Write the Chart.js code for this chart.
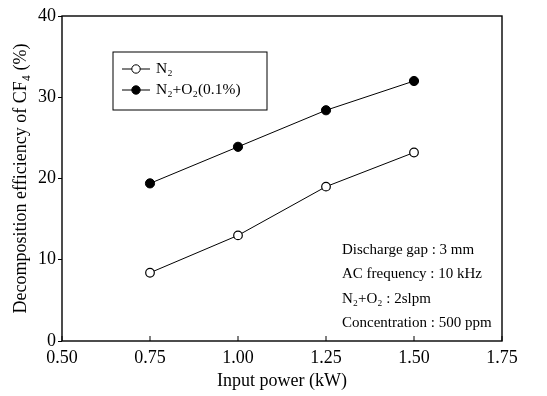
<!DOCTYPE html>
<html>
<head>
<meta charset="utf-8">
<script src="https://cdn.jsdelivr.net/npm/chart.js@4/dist/chart.umd.min.js"></script>
<style>
  html, body { margin: 0; padding: 0; background: #fff; }
  #wrap { width: 547px; height: 396px; }
</style>
</head>
<body>
<div id="wrap"><canvas id="cf4Chart" width="547" height="396"></canvas></div>
<script>
var power = [0.75, 1.00, 1.25, 1.50];
var n2 = [8.4, 13.0, 19.0, 23.2];
var n2o2 = [19.4, 23.9, 28.4, 32.0];
var seriesNames = ['N\u2082', 'N\u2082+O\u2082(0.1%)'];
var notes = ['Discharge gap : 3 mm', 'AC frequency : 10 kHz', 'N\u2082+O\u2082 : 2slpm', 'Concentration : 500 ppm'];
var xTicks = [0.50, 0.75, 1.00, 1.25, 1.50, 1.75];
var yTicks = [0, 10, 20, 30, 40];

var serif = '"Liberation Serif", "DejaVu Serif", serif';

function pts(ys) {
    return power.map(function(x, i) { return { x: x, y: ys[i] }; });
}

// frame, inward x ticks, legend box and the note lines
var decor = {
    id: 'decor',
    afterDraw: function(chart) {
        var ctx = chart.ctx, a = chart.chartArea;
        var xs = chart.scales.x;
        ctx.save();
        ctx.strokeStyle = '#000';
        ctx.lineWidth = 1.4;
        ctx.strokeRect(a.left, a.top, a.right - a.left, a.bottom - a.top);
        ctx.lineWidth = 1;
        xTicks.forEach(function(t) {
            var px = xs.getPixelForValue(t);
            ctx.beginPath();
            ctx.moveTo(px, a.bottom);
            ctx.lineTo(px, a.bottom - 5);
            ctx.stroke();
        });

        // legend
        var bx = a.left + 51, by = a.top + 36, bw = 154, bh = 58;
        ctx.strokeRect(bx, by, bw, bh);
        ctx.font = '15.5px ' + serif;
        ctx.textBaseline = 'middle';
        ctx.fillStyle = '#000';
        var rows = [by + 17, by + 38];
        rows.forEach(function(ry, i) {
            ctx.beginPath();
            ctx.moveTo(bx + 9, ry);
            ctx.lineTo(bx + 37, ry);
            ctx.stroke();
            ctx.beginPath();
            ctx.arc(bx + 23, ry, 4.2, 0, Math.PI * 2);
            ctx.fillStyle = i === 0 ? '#fff' : '#000';
            ctx.fill();
            ctx.stroke();
            ctx.fillStyle = '#000';
            ctx.fillText(seriesNames[i], bx + 43, ry);
        });

        // notes
        ctx.font = '15px ' + serif;
        notes.forEach(function(s, i) {
            ctx.fillText(s, 342, 250 + i * 24.5);
        });
        ctx.restore();
    }
};

new Chart(document.getElementById('cf4Chart').getContext('2d'), {
    type: 'line',
    data: {
        datasets: [{
            label: seriesNames[0],
            data: pts(n2),
            borderColor: '#000',
            borderWidth: 1,
            pointBackgroundColor: '#fff',
            pointBorderColor: '#000',
            pointBorderWidth: 1.2,
            pointRadius: 4.3,
            tension: 0
        }, {
            label: seriesNames[1],
            data: pts(n2o2),
            borderColor: '#000',
            borderWidth: 1,
            pointBackgroundColor: '#000',
            pointBorderColor: '#000',
            pointBorderWidth: 1,
            pointRadius: 4.6,
            tension: 0
        }]
    },
    options: {
        responsive: false,
        animation: false,
        layout: { padding: { top: 16, right: 45, left: 0, bottom: 0 } },
        plugins: { legend: { display: false }, tooltip: { enabled: false } },
        scales: {
            x: {
                type: 'linear',
                min: 0.5, max: 1.75,
                afterBuildTicks: function(s) { s.ticks = xTicks.map(function(v) { return { value: v }; }); },
                afterFit: function(s) { s.height = 55; },
                ticks: {
                    color: '#000', font: { family: serif, size: 18 }, padding: 6,
                    maxRotation: 0, autoSkip: false,
                    callback: function(v) { return v.toFixed(2); }
                },
                grid: { display: false, drawTicks: false },
                border: { display: false },
                title: { display: true, text: 'Input power (kW)', color: '#000', font: { family: serif, size: 18 }, padding: { top: 1 } }
            },
            y: {
                min: 0, max: 40,
                afterBuildTicks: function(s) { s.ticks = yTicks.map(function(v) { return { value: v }; }); },
                afterFit: function(s) { s.width = 62; },
                ticks: { color: '#000', font: { family: serif, size: 18 }, padding: 2 },
                grid: { drawOnChartArea: false, tickLength: 4, color: '#000' },
                border: { display: false },
                title: { display: true, text: 'Decomposition efficiency of CF\u2084 (%)', color: '#000', font: { family: serif, size: 18 }, padding: { top: 10, bottom: 2 } }
            }
        }
    },
    plugins: [decor]
});
</script>
</body>
</html>
